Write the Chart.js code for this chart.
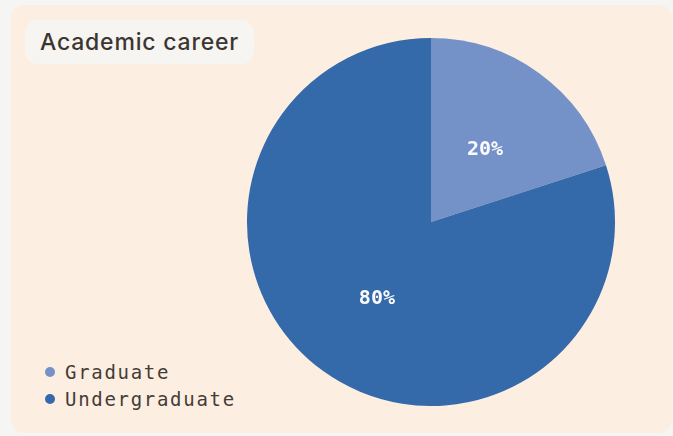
<!DOCTYPE html>
<html lang="en">
<head>
  <meta charset="UTF-8">
  <title>Academic career</title>
  <style>
    * { box-sizing: border-box; margin: 0; padding: 0; }
    body { width: 673px; height: 436px; background: #f5f5f3; overflow: hidden; position: relative; }
    .card { position: absolute; left: 11px; top: 5px; width: 661px; height: 428px; background: #fdeee2; border-radius: 13px; }
    .title {
      position: absolute; left: 25px; top: 20px; width: 229px; height: 44px;
      background: #f6f5f2; border-radius: 13px;
      font-family: 'Inter', sans-serif; font-weight: 500; font-size: 23px; color: #3d3530;
      padding-left: 15px; line-height: 44px; letter-spacing: 0.8px;
    }
    .chart-box { position: absolute; left: 247px; top: 38px; width: 368px; height: 368px; }
    .legend { position: absolute; left: 45px; top: 358px; font-family: 'DejaVu Sans Mono', monospace; font-size: 19px; color: #443c36; letter-spacing: 1.7px; }
    .legend div { height: 27px; line-height: 24px; display: flex; align-items: center; }
    .legend span.dot { display: inline-block; width: 10px; height: 10px; border-radius: 50%; margin-right: 10px; }
  </style>
</head>
<body>
  <div class="card"></div>
  <div class="title">Academic career</div>
  <div class="chart-box"><canvas id="pie"></canvas></div>
  <div class="legend" id="legend"></div>

  <script src="https://cdn.jsdelivr.net/npm/chart.js"></script>
  <script>
    // data
    var categories = ["Graduate", "Undergraduate"];
    var shares = [20, 80];
    var colors = ["#7492c8", "#3469aa"];

    // legend
    var leg = document.getElementById("legend");
    categories.forEach(function(c, i) {
      var row = document.createElement("div");
      var dot = document.createElement("span"); dot.className = "dot"; dot.style.background = colors[i];
      row.appendChild(dot);
      row.appendChild(document.createTextNode(c));
      leg.appendChild(row);
    });

    // percent labels in the middle of each slice
    var sliceLabels = {
      id: "sliceLabels",
      afterDatasetsDraw: function(chart) {
        var ctx = chart.ctx;
        var meta = chart.getDatasetMeta(0);
        ctx.save();
        ctx.font = "bold 20px 'DejaVu Sans Mono', monospace";
        ctx.fillStyle = "#fbfbfd";
        ctx.textAlign = "center";
        ctx.textBaseline = "middle";
        meta.data.forEach(function(arc, i) {
          var p = arc.tooltipPosition();
          ctx.fillText(shares[i] + "%", p.x, p.y + 2);
        });
        ctx.restore();
      }
    };

    new Chart(document.getElementById("pie"), {
      type: "pie",
      data: { labels: categories, datasets: [{ data: shares, backgroundColor: colors, borderWidth: 0 }] },
      options: {
        responsive: true, maintainAspectRatio: false, animation: false,
        layout: { padding: 0 },
        plugins: { legend: { display: false }, tooltip: { enabled: false } }
      },
      plugins: [sliceLabels]
    });
  </script>
</body>
</html>
